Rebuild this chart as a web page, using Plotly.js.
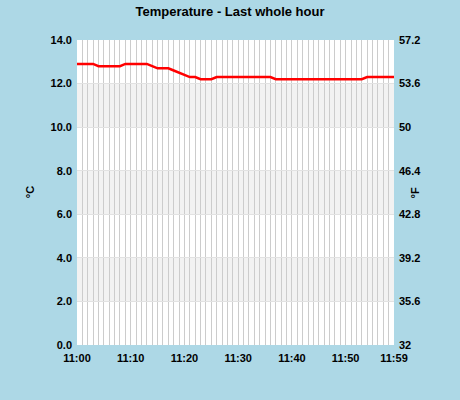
<!DOCTYPE html>
<html>
<head>
<meta charset="utf-8">
<script src="https://cdn.plot.ly/plotly-3.0.1.min.js"></script>
<style>
  body { margin: 0; background: #add8e6; }
  #chart { width: 460px; height: 400px; }
</style>
</head>
<body>
<div id="chart"></div>
<script>
// minute labels for the last whole hour
const times = [
  '11:00','11:01','11:02','11:03','11:04','11:05','11:06','11:07','11:08','11:09',
  '11:10','11:11','11:12','11:13','11:14','11:15','11:16','11:17','11:18','11:19',
  '11:20','11:21','11:22','11:23','11:24','11:25','11:26','11:27','11:28','11:29',
  '11:30','11:31','11:32','11:33','11:34','11:35','11:36','11:37','11:38','11:39',
  '11:40','11:41','11:42','11:43','11:44','11:45','11:46','11:47','11:48','11:49',
  '11:50','11:51','11:52','11:53','11:54','11:55','11:56','11:57','11:58','11:59'
];

// temperature in degrees C, one reading a minute
const tempC = [
  12.9, 12.9, 12.9, 12.9, 12.8, 12.8, 12.8, 12.8, 12.8, 12.9,
  12.9, 12.9, 12.9, 12.9, 12.8, 12.7, 12.7, 12.7, 12.6, 12.5,
  12.4, 12.3, 12.3, 12.2, 12.2, 12.2, 12.3, 12.3, 12.3, 12.3,
  12.3, 12.3, 12.3, 12.3, 12.3, 12.3, 12.3, 12.2, 12.2, 12.2,
  12.2, 12.2, 12.2, 12.2, 12.2, 12.2, 12.2, 12.2, 12.2, 12.2,
  12.2, 12.2, 12.2, 12.2, 12.3, 12.3, 12.3, 12.3, 12.3, 12.3
];

const xTickLabels = ['11:00', '11:10', '11:20', '11:30', '11:40', '11:50', '11:59'];
const cTicks = [0, 2, 4, 6, 8, 10, 12, 14];
const fTicks = [32, 35.6, 39.2, 42.8, 46.4, 50, 53.6, 57.2];

/**
 * Turns a hh:mm label into a date string plotly can place on a date axis
 * @param  {string} t time label
 * @return {string}   full date string
 */
function toDate(t){
  return '2024-01-01 ' + t;
}

const font = {family: 'Liberation Sans, Arial, sans-serif', color: '#000', size: 11, weight: 'bold'};

// grey bands on every other 2 degree step
const bands = [];
for (let i = 1; i < cTicks.length - 1; i += 2){
  bands.push({
    type: 'rect', xref: 'paper', yref: 'y', layer: 'below',
    x0: 0, x1: 1, y0: cTicks[i], y1: cTicks[i + 1],
    fillcolor: '#f2f2f2', line: {width: 0}
  });
}

const trace = {
  x: times.map(toDate),
  y: tempC,
  type: 'scatter',
  mode: 'lines',
  line: {color: '#ff0000', width: 2.5},
  hoverinfo: 'none'
};

// dummy trace so the fahrenheit axis gets drawn
const traceF = {
  x: [toDate(times[0])],
  y: [fTicks[0]],
  yaxis: 'y2',
  type: 'scatter',
  mode: 'markers',
  marker: {opacity: 0},
  hoverinfo: 'none',
  showlegend: false
};

const layout = {
  width: 460,
  height: 400,
  paper_bgcolor: '#add8e6',
  plot_bgcolor: '#ffffff',
  showlegend: false,
  margin: {l: 77, r: 66, t: 40, b: 55},
  title: {
    text: 'Temperature - Last whole hour',
    font: {family: font.family, size: 13, color: '#000', weight: 'bold'},
    x: 0.5, xanchor: 'center', y: 0.972, yanchor: 'middle'
  },
  xaxis: {
    type: 'date',
    range: [toDate(times[0]), toDate(times[times.length - 1])],
    tickvals: xTickLabels.map(toDate),
    ticktext: xTickLabels,
    tickfont: font,
    ticks: '',
    ticklabelstandoff: 5,
    showgrid: true,
    gridcolor: '#cccccc',
    gridwidth: 1,
    minor: {dtick: 60000, showgrid: true, gridcolor: '#cccccc', gridwidth: 1},
    zeroline: false,
    showline: false,
    fixedrange: true
  },
  yaxis: {
    range: [cTicks[0], cTicks[cTicks.length - 1]],
    tickvals: cTicks,
    tickformat: '.1f',
    tickfont: font,
    ticks: '',
    ticklabelstandoff: 4,
    showgrid: true,
    gridcolor: '#e2e2e2',
    zeroline: false,
    showline: false,
    fixedrange: true
  },
  yaxis2: {
    overlaying: 'y',
    side: 'right',
    range: [fTicks[0], fTicks[fTicks.length - 1]],
    tickvals: fTicks,
    ticktext: fTicks.map(String),
    tickfont: font,
    ticks: '',
    ticklabelstandoff: 4,
    showgrid: false,
    zeroline: false,
    showline: false,
    fixedrange: true
  },
  // axis titles placed by hand, like the original
  annotations: [
    {text: '°C', font: font, textangle: -90, showarrow: false,
     xref: 'paper', yref: 'paper', x: -0.149, y: 0.5, xanchor: 'center', yanchor: 'middle'},
    {text: '°F', font: font, textangle: -90, showarrow: false,
     xref: 'paper', yref: 'paper', x: 1.066, y: 0.5, xanchor: 'center', yanchor: 'middle'}
  ],
  shapes: bands
};

Plotly.newPlot('chart', [trace, traceF], layout, {displayModeBar: false, staticPlot: true});
</script>
</body>
</html>
